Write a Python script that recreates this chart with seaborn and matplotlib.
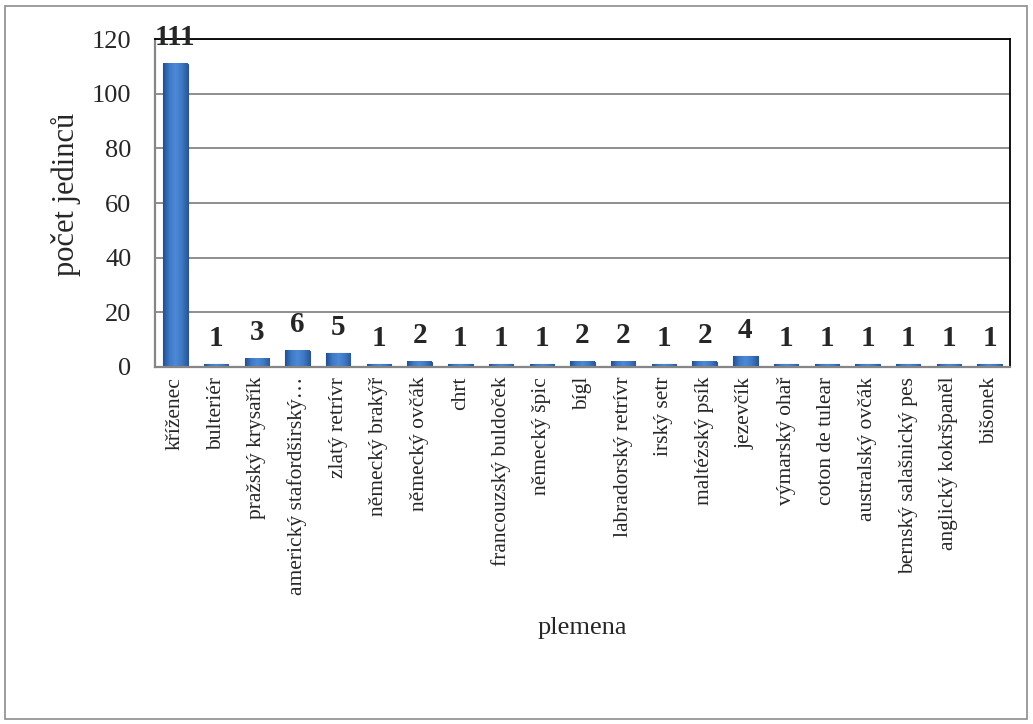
import matplotlib
matplotlib.use('Agg')
import matplotlib.pyplot as plt
import seaborn as sns
import numpy as np
import pandas as pd
from matplotlib.patches import Rectangle
from matplotlib.colors import LinearSegmentedColormap

# data
plemena = ['kříženec', 'bulteriér', 'pražský krysařík', 'americký stafordširský…',
           'zlatý retrívr', 'německý brakýř', 'německý ovčák', 'chrt',
           'francouzský buldoček', 'německý špic', 'bígl', 'labradorský retrívr',
           'irský setr', 'maltézský psík', 'jezevčík', 'výmarský ohař',
           'coton de tulear', 'australský ovčák', 'bernský salašnický pes',
           'anglický kokršpaněl', 'bišonek']
pocty = [111, 1, 3, 6, 5, 1, 2, 1, 1, 1, 2, 2, 1, 2, 4, 1, 1, 1, 1, 1, 1]

df = pd.DataFrame({'plemeno': plemena, 'pocet': pocty})

sns.set_style('white')
plt.rcParams['font.family'] = ['Liberation Serif', 'DejaVu Serif']

fig = plt.figure(figsize=(10.33, 7.24), dpi=100)
ax = fig.add_axes([155 / 1033, 1 - 367 / 724, 855 / 1033, 328 / 724])

sns.barplot(data=df, x='plemeno', y='pocet', color='#3b70ba', edgecolor='#2a5494',
            linewidth=0.8, width=0.6, saturation=1, ax=ax)

# bevel-like horizontal gradient on every bar
bar_cmap = LinearSegmentedColormap.from_list(
    'bar', ['#22508f', '#3f79c6', '#4d89d6', '#3f79c6', '#2a5a9c'])
grad = np.linspace(0, 1, 64).reshape(1, -1)
for p in list(ax.patches):
    x0, y0 = p.get_x(), p.get_y()
    w, h = p.get_width(), p.get_height()
    ax.imshow(grad, extent=[x0, x0 + w, y0, y0 + h], aspect='auto',
              cmap=bar_cmap, clip_path=p, zorder=p.get_zorder() + 0.1)

ax.set_ylim(0, 120)
ax.set_xlim(-0.5, len(plemena) - 0.5)
ax.set_yticks(range(0, 121, 20))
ax.yaxis.grid(True, color='#868686', linewidth=1.3)
ax.set_axisbelow(True)

for i, v in enumerate(pocty):
    ax.annotate(str(v), (i, v), xytext=(0, 9), textcoords='offset points',
                ha='center', va='bottom', fontsize=21, fontweight='bold', zorder=5)

ax.tick_params(axis='y', labelsize=19, length=0, pad=17)
ax.tick_params(axis='x', labelsize=15.5, length=0, pad=7)
plt.setp(ax.get_xticklabels(), rotation=90)

ax.set_xlabel('plemena', fontsize=19, labelpad=16)
ax.set_ylabel('počet jedinců', fontsize=22)
ax.yaxis.set_label_coords(-0.086, 0.525)

for s in ['top', 'right']:
    ax.spines[s].set_color('black')
    ax.spines[s].set_linewidth(1.3)
for s in ['left', 'bottom']:
    ax.spines[s].set_color('#868686')
    ax.spines[s].set_linewidth(1.6)

# outer chart border
fig.patches.append(Rectangle((5 / 1033, 5 / 724), 1022 / 1033, 713 / 724,
                             transform=fig.transFigure, fill=False,
                             edgecolor='#8c8c8c', linewidth=1.2))

fig.savefig('out.png', dpi=100)
